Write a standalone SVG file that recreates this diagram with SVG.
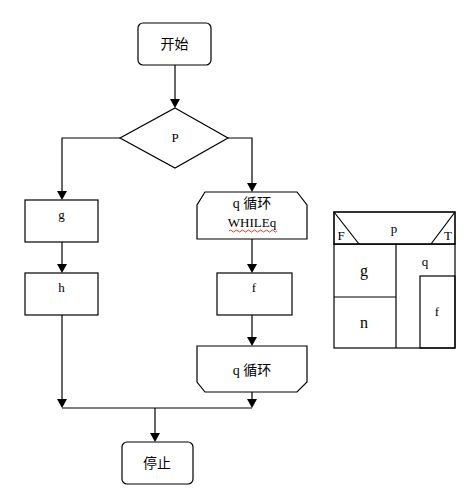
<svg xmlns="http://www.w3.org/2000/svg" width="476" height="498" viewBox="0 0 476 498">
<defs>
<style>
.s{fill:#fff;stroke:#000;stroke-width:1.2}
.l{fill:none;stroke:#000;stroke-width:1.2}
.t{font-family:"Liberation Serif","Noto Sans CJK SC",serif;font-size:13px;fill:#000;text-anchor:middle}
.c{font-family:"Liberation Serif","Noto Sans CJK SC",serif;font-size:14px;fill:#000;text-anchor:middle}
.ns{font-family:"Liberation Serif","Noto Sans CJK SC",serif;font-size:16px;fill:#000;text-anchor:middle}
</style>
</defs>
<rect width="476" height="498" fill="#fff"/>
<g id="connectors">
<line class="l" x1="175" y1="65" x2="175" y2="106"/>
<path d="M170,99 L180,99 L175,108 Z"/>
<polyline class="l" points="120,138 62,138 62,198"/>
<path d="M57,191 L67,191 L62,200 Z"/>
<polyline class="l" points="228,138 252,138 252,190"/>
<path d="M247,183 L257,183 L252,192 Z"/>
<line class="l" x1="62" y1="242" x2="62" y2="270"/>
<path d="M57,264 L67,264 L62,273 Z"/>
<line class="l" x1="252" y1="239" x2="252" y2="270"/>
<path d="M247,264 L257,264 L252,273 Z"/>
<line class="l" x1="252" y1="315" x2="252" y2="343"/>
<path d="M247,337 L257,337 L252,346 Z"/>
<line class="l" x1="62" y1="315" x2="62" y2="405"/>
<path d="M57,399 L67,399 L62,408 Z"/>
<line class="l" x1="252" y1="392" x2="252" y2="405"/>
<path d="M247,399 L257,399 L252,408 Z"/>
<line class="l" x1="62" y1="408" x2="252" y2="408"/>
<line class="l" x1="155" y1="408" x2="155" y2="439"/>
<path d="M150,433 L160,433 L155,442 Z"/>
</g>
<g id="start">
<rect class="s" x="138" y="23" width="73" height="42" rx="5"/>
<text class="c" x="174.500" y="49">开始</text>
</g>
<g id="decision">
<polygon class="s" points="175,108 228,138 175,168 120,138"/>
<text class="t" x="175" y="142">P</text>
</g>
<g id="g">
<rect class="s" x="25" y="200" width="73" height="42"/>
<text class="t" x="61.500" y="219">g</text>
</g>
<g id="h">
<rect class="s" x="25" y="273" width="73" height="42"/>
<text class="t" x="61.500" y="292">h</text>
</g>
<g id="loop-start">
<polygon class="s" points="205,192 297,192 307,205 307,239 197,239 197,205"/>
<text class="c" x="252" y="208">q 循环</text>
<text class="t" x="252" y="227">WHILEq</text>
<path d="M229,231 q1.5,-2 3,0 t3,0 t3,0 t3,0 t3,0 t3,0 t3,0 t3,0 t3,0 t3,0 t3,0 t3,0 t3,0 t3,0 t3,0 t3,0" fill="none" stroke="#e00" stroke-width="0.8"/>
</g>
<g id="f">
<rect class="s" x="217" y="273" width="75" height="42"/>
<text class="t" x="254" y="292">f</text>
</g>
<g id="loop-end">
<polygon class="s" points="197,346 307,346 307,382 297,392 205,392 197,382"/>
<text class="c" x="252" y="375">q 循环</text>
</g>
<g id="stop">
<rect class="s" x="122" y="442" width="71" height="42" rx="5"/>
<text class="c" x="157" y="468">停止</text>
</g>
<g id="ns-chart">
<rect class="l" x="334" y="244" width="121" height="104"/>
<line class="l" x1="396" y1="244" x2="396" y2="348"/>
<line class="l" x1="334" y1="297" x2="396" y2="297"/>
<rect class="l" x="420" y="276" width="35" height="72"/>
<rect x="334" y="212" width="121" height="32" fill="#fff" stroke="#000" stroke-width="1.6"/>
<line class="l" x1="334" y1="212" x2="359" y2="244"/>
<line class="l" x1="455" y1="212" x2="431" y2="244"/>
<text class="t" x="341" y="240">F</text>
<text class="t" x="394" y="233">p</text>
<text class="t" x="448" y="240">T</text>
<text class="ns" x="364" y="276">g</text>
<text class="t" x="425" y="266">q</text>
<text class="ns" x="364" y="328">n</text>
<text class="t" x="437" y="316">f</text>
</g>
</svg>
